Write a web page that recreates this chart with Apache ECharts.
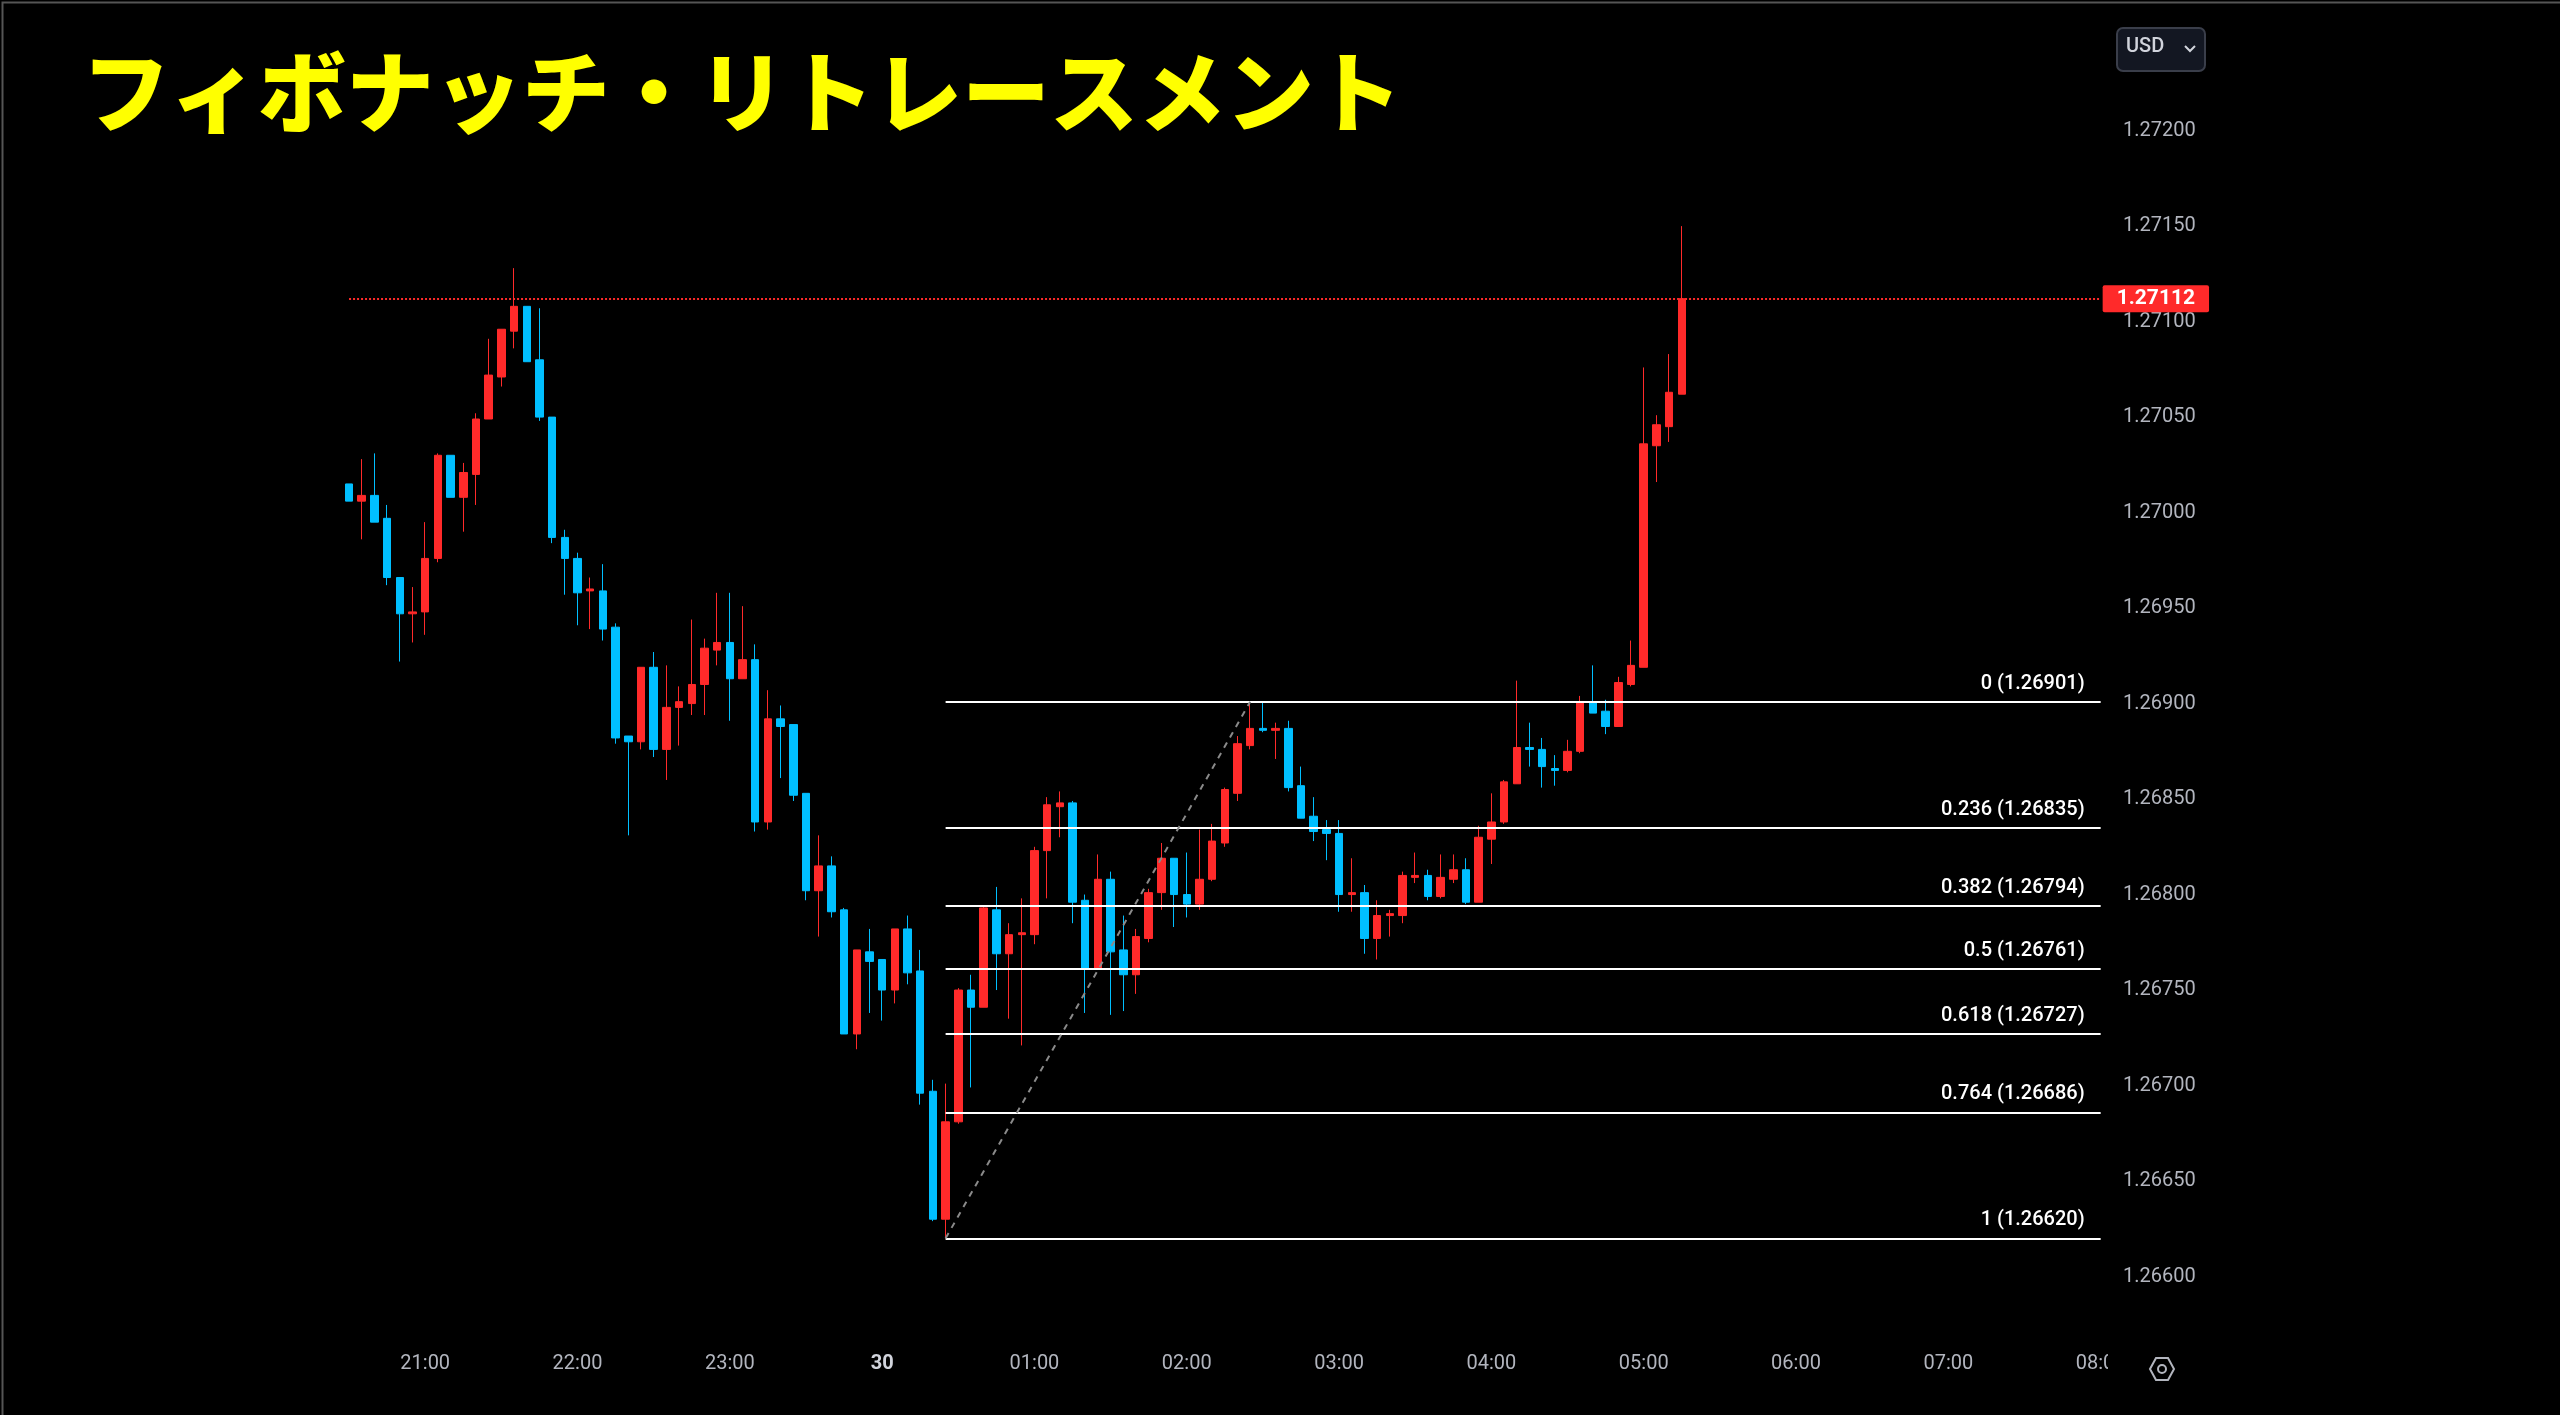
<!DOCTYPE html>
<html>
<head>
<meta charset="utf-8">
<script src="https://cdn.jsdelivr.net/npm/echarts@6/dist/echarts.min.js"></script>
<style>
  html, body { margin: 0; padding: 0; background: #000; }
  #main { width: 2560px; height: 1415px; }
</style>
</head>
<body>
<div id="main"></div>
<script>
// 5分足 20:30 〜 05:15
var opens = [1.27015,1.27006,1.27009,1.26997,1.26966,1.26947,1.26948,1.26976,1.27030,1.27008,
  1.27020,1.27049,1.27071,1.27095,1.27108,1.27080,1.27050,1.26987,1.26976,1.26959,
  1.26959,1.26940,1.26883,1.26880,1.26919,1.26876,1.26898,1.26900,1.26910,1.26928,
  1.26932,1.26913,1.26923,1.26838,1.26892,1.26889,1.26853,1.26802,1.26815,1.26792,
  1.26727,1.26770,1.26766,1.26750,1.26782,1.26760,1.26697,1.26630,1.26681,1.26750,
  1.26741,1.26792,1.26769,1.26779,1.26779,1.26823,1.26846,1.26848,1.26797,1.26761,
  1.26808,1.26771,1.26758,1.26777,1.26801,1.26819,1.26800,1.26795,1.26808,1.26827,
  1.26853,1.26878,1.26887,1.26886,1.26887,1.26857,1.26841,1.26834,1.26832,1.26800,
  1.26801,1.26777,1.26789,1.26789,1.26809,1.26810,1.26799,1.26808,1.26813,1.26796,
  1.26829,1.26838,1.26858,1.26877,1.26876,1.26866,1.26865,1.26875,1.26901,1.26896,
  1.26888,1.26910,1.26919,1.27035,1.27045,1.27062];
var closes = [1.27006,1.27009,1.26995,1.26966,1.26947,1.26948,1.26976,1.27030,1.27008,1.27021,
  1.27049,1.27072,1.27096,1.27108,1.27079,1.27050,1.26987,1.26976,1.26958,1.26960,
  1.26939,1.26882,1.26880,1.26919,1.26876,1.26898,1.26901,1.26910,1.26929,1.26932,
  1.26913,1.26923,1.26838,1.26892,1.26888,1.26852,1.26802,1.26815,1.26791,1.26727,
  1.26771,1.26765,1.26750,1.26782,1.26759,1.26696,1.26630,1.26681,1.26750,1.26741,
  1.26793,1.26769,1.26779,1.26780,1.26823,1.26847,1.26848,1.26796,1.26761,1.26808,
  1.26770,1.26758,1.26778,1.26801,1.26819,1.26800,1.26795,1.26808,1.26828,1.26855,
  1.26879,1.26887,1.26886,1.26887,1.26856,1.26840,1.26833,1.26832,1.26800,1.26801,
  1.26777,1.26789,1.26790,1.26810,1.26810,1.26799,1.26809,1.26813,1.26796,1.26830,
  1.26838,1.26859,1.26877,1.26876,1.26867,1.26865,1.26875,1.26901,1.26895,1.26888,
  1.26911,1.26920,1.27036,1.27046,1.27063,1.27112];
var lows = [1.27006,1.26986,1.26995,1.26962,1.26922,1.26932,1.26936,1.26974,1.27008,1.26990,
  1.27004,1.27049,1.27066,1.27086,1.27079,1.27048,1.26984,1.26957,1.26941,1.26939,
  1.26933,1.26879,1.26831,1.26876,1.26872,1.26860,1.26878,1.26894,1.26894,1.26920,
  1.26891,1.26913,1.26833,1.26834,1.26861,1.26849,1.26797,1.26778,1.26788,1.26727,
  1.26719,1.26738,1.26734,1.26743,1.26753,1.26690,1.26629,1.26620,1.26680,1.26699,
  1.26741,1.26750,1.26735,1.26721,1.26774,1.26798,1.26830,1.26785,1.26738,1.26761,
  1.26737,1.26739,1.26748,1.26775,1.26792,1.26783,1.26788,1.26792,1.26807,1.26825,
  1.26849,1.26876,1.26885,1.26871,1.26854,1.26840,1.26828,1.26818,1.26791,1.26791,
  1.26769,1.26766,1.26778,1.26785,1.26806,1.26797,1.26798,1.26806,1.26795,1.26796,
  1.26816,1.26837,1.26858,1.26867,1.26856,1.26857,1.26864,1.26874,1.26895,1.26884,
  1.26888,1.26909,1.26919,1.27016,1.27037,1.27062];
var highs = [1.27015,1.27028,1.27031,1.27004,1.26966,1.26961,1.26995,1.27031,1.27030,1.27026,
  1.27052,1.27091,1.27096,1.27128,1.27108,1.27107,1.27050,1.26991,1.26979,1.26966,
  1.26973,1.26942,1.26883,1.26919,1.26927,1.26920,1.26909,1.26944,1.26934,1.26958,
  1.26958,1.26951,1.26931,1.26907,1.26899,1.26889,1.26853,1.26831,1.26820,1.26793,
  1.26771,1.26782,1.26766,1.26782,1.26789,1.26771,1.26703,1.26701,1.26751,1.26758,
  1.26794,1.26804,1.26785,1.26798,1.26825,1.26851,1.26854,1.26849,1.26800,1.26821,
  1.26812,1.26789,1.26782,1.26803,1.26827,1.26819,1.26822,1.26834,1.26837,1.26856,
  1.26883,1.26901,1.26901,1.26890,1.26891,1.26867,1.26851,1.26839,1.26839,1.26819,
  1.26805,1.26797,1.26792,1.26812,1.26822,1.26813,1.26821,1.26821,1.26819,1.26836,
  1.26853,1.26860,1.26912,1.26890,1.26882,1.26873,1.26881,1.26904,1.26920,1.26902,
  1.26914,1.26933,1.27076,1.27051,1.27083,1.27150];

var fibLevels = ['0', '0.236', '0.382', '0.5', '0.618', '0.764', '1'];
var fibPrices = [1.26901, 1.26835, 1.26794, 1.26761, 1.26727, 1.26686, 1.26620];
var lastPrice = 1.27112;

// 時間軸 18:15 〜 08:00 (5分刻み)、ローソク足は 20:30 から
var categories = [];
for (var m = 18 * 60 + 15; m <= 32 * 60; m += 5) {
  var hh = Math.floor(m / 60) % 24, mm = m % 60;
  categories.push((hh < 10 ? '0' : '') + hh + ':' + (mm < 10 ? '0' : '') + mm);
}
var startIdx = categories.indexOf('20:30');
var candles = categories.map(function () { return '-'; });
for (var i = 0; i < opens.length; i++) {
  candles[startIdx + i] = [opens[i], closes[i], lows[i], highs[i]];
}
var fibStart = categories[startIdx + 47];   // 安値の足
var swingHigh = categories[startIdx + 71];  // 高値の足
var lastCat = categories[categories.length - 1];

var fibLines = fibLevels.map(function (lv, k) {
  return [
    { coord: [fibStart, fibPrices[k]], name: lv + ' (' + fibPrices[k].toFixed(5) + ')' },
    { coord: [lastCat, fibPrices[k]] }
  ];
});

var chart = echarts.init(document.getElementById('main'));
chart.setOption({
  backgroundColor: '#000',
  animation: false,
  grid: { left: 0, right: 453, top: 0, bottom: 43 },
  xAxis: {
    type: 'category',
    data: categories,
    axisLine: { show: false },
    axisTick: { show: false },
    splitLine: { show: false },
    axisLabel: {
      margin: -8,
      verticalAlign: 'middle',
      color: '#b2b5be',
      fontSize: 20,
      fontFamily: 'Roboto',
      interval: function (idx, val) { return idx > startIdx && val.slice(3) === '00'; },
      formatter: function (val) { return val === '00:00' ? '{b|30}' : val; },
      rich: { b: { fontSize: 20, fontWeight: 'bold', color: '#d1d4dc', fontFamily: 'Roboto' } }
    }
  },
  yAxis: {
    type: 'value',
    position: 'right',
    min: 1.2655,
    max: 1.272684,
    interval: 0.0005,
    axisLine: { show: false },
    axisTick: { show: false },
    splitLine: { show: false },
    axisLabel: {
      margin: 16,
      color: '#b2b5be',
      fontSize: 20,
      fontFamily: 'Roboto',
      formatter: function (v) {
        if (v < 1.26599 || v > 1.27201) return '';
        return v.toFixed(5);
      }
    }
  },
  series: [{
    type: 'candlestick',
    data: candles,
    barWidth: 8,
    itemStyle: {
      color: '#ff2a2a', borderColor: '#ff2a2a',
      color0: '#00bfff', borderColor0: '#00bfff',
      borderWidth: 1
    },
    markLine: {
      symbol: 'none',
      silent: true,
      data: fibLines.concat([
        [
          { coord: [fibStart, fibPrices[6]], lineStyle: { color: '#8a8a8a', type: [6, 6], width: 2 }, label: { show: false } },
          { coord: [swingHigh, fibPrices[0]] }
        ],
        [
          { coord: ['20:30', lastPrice], lineStyle: { color: '#ff2a2a', type: 'dotted', width: 2 },
            label: { show: true, position: 'end', distance: 2, formatter: lastPrice.toFixed(5),
              color: '#fff', backgroundColor: '#ff2a2a', fontSize: 21, fontWeight: 'bold',
              fontFamily: 'Roboto', padding: [3, 14, 3, 14], borderRadius: 2 } },
          { coord: [lastCat, lastPrice] }
        ]
      ]),
      lineStyle: { color: '#ffffff', width: 2, type: 'solid' },
      label: {
        show: true,
        position: 'insideEndTop',
        formatter: '{b}',
        color: '#ffffff',
        fontSize: 20,
        fontWeight: 500,
        fontFamily: 'Roboto',
        distance: [16, 8]
      }
    }
  }],
  graphic: [
    { type: 'rect', left: 0, top: 0, shape: { width: 2559, height: 1414 },
      style: { fill: 'none', stroke: '#555', lineWidth: 2 }, silent: true },
    { type: 'text', left: 82, top: 48,
      style: { text: 'フィボナッチ・リトレースメント', fill: '#ffff00', fontSize: 88,
        fontWeight: 900, fontFamily: '"Noto Sans CJK JP"' } },
    { type: 'rect', left: 2116, top: 27, shape: { width: 88, height: 43, r: 6 },
      style: { fill: '#131722', stroke: '#3a3e4a', lineWidth: 2 } },
    { type: 'text', left: 2126, top: 37, style: { text: 'USD', fill: '#d1d4dc', fontSize: 20, fontFamily: 'Roboto', fontWeight: 500 } },
    { type: 'polyline', shape: { points: [[2185, 46], [2190, 51], [2195, 46]] },
      style: { stroke: '#d1d4dc', lineWidth: 2, fill: 'none' } },
    { type: 'rect', left: 2108, top: 1345, z: 100, shape: { width: 30, height: 45 }, style: { fill: '#000' } },
    { type: 'polygon', z: 101, shape: { points: [[2150, 1369], [2156, 1358], [2168, 1358], [2174, 1369], [2168, 1380], [2156, 1380]] },
      style: { fill: 'none', stroke: '#b2b5be', lineWidth: 2 } },
    { type: 'circle', z: 101, shape: { cx: 2162, cy: 1369, r: 4 }, style: { fill: 'none', stroke: '#b2b5be', lineWidth: 2 } }
  ]
});
window.addEventListener('resize', function () { chart.resize(); });
</script>
</body>
</html>
